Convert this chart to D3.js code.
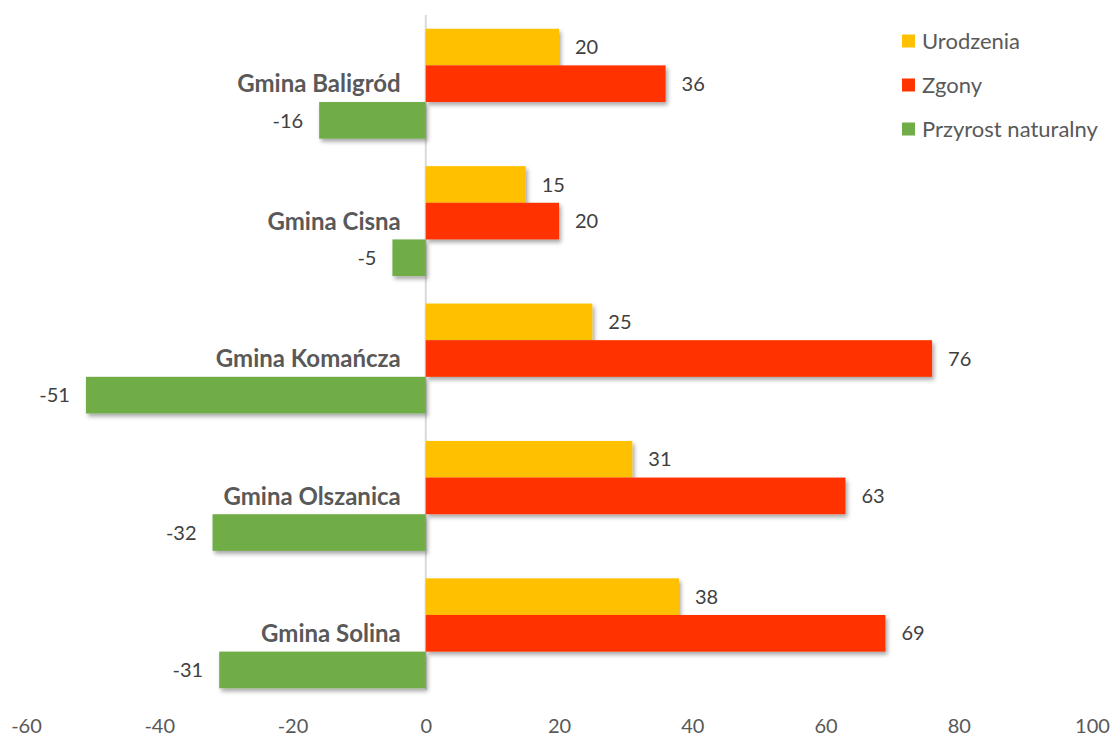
<!DOCTYPE html>
<html lang="pl">
<head>
<meta charset="utf-8">
<title>Przyrost naturalny</title>
<style type="text/css">
    body { margin: 0; background: #fff; }
    text { font-family: Lato, "Open Sans", sans-serif; }
</style>
</head>
<body>
<script src="https://cdnjs.cloudflare.com/ajax/libs/d3/7.8.5/d3.min.js"></script>
<script>

    var categories = ["Gmina Baligród", "Gmina Cisna", "Gmina Komańcza", "Gmina Olszanica", "Gmina Solina"];
    var seriesNames = ["Urodzenia", "Zgony", "Przyrost naturalny"];
    var urodzenia = [20, 15, 25, 31, 38];
    var zgony = [36, 20, 76, 63, 69];
    var przyrost = [-16, -5, -51, -32, -31];
    var xTicks = [-60, -40, -20, 0, 20, 40, 60, 80, 100];
    var colors = ["#FFC000", "#FF3300", "#70AD47"];

    var series = [urodzenia, zgony, przyrost];

    var width = 1113, height = 740;
    var plot = {left: 26, right: 1092, top: 15, bottom: 702};

    var svg = d3.select("body").append("svg")
        .attr("width", width)
        .attr("height", height);

    var defs = svg.append("defs");
    var filter = defs.append("filter")
        .attr("id", "shadow")
        .attr("x", "-10%").attr("y", "-30%")
        .attr("width", "130%").attr("height", "180%");
    filter.append("feDropShadow")
        .attr("dx", 2).attr("dy", 3)
        .attr("stdDeviation", 2.2)
        .attr("flood-color", "#000")
        .attr("flood-opacity", 0.35);

    var xScale = d3.scaleLinear()
        .domain([-60, 100])
        .range([plot.left, plot.right]);

    var yScale = d3.scaleBand()
        .domain(categories)
        .range([plot.top, plot.bottom])
        .paddingInner(0.2)
        .paddingOuter(0.1);

    var ySub = d3.scaleBand()
        .domain(d3.range(seriesNames.length))
        .range([0, yScale.bandwidth()]);

    // zero line
    svg.append("line")
        .attr("x1", xScale(0)).attr("x2", xScale(0))
        .attr("y1", plot.top).attr("y2", plot.bottom - 12)
        .attr("stroke", "#d9d9d9")
        .attr("stroke-width", 2);

    // bars
    var groups = svg.selectAll("g.cat")
        .data(categories)
        .enter()
        .append("g")
        .attr("class", "cat")
        .attr("transform", function(d){ return "translate(0," + yScale(d) + ")"; });

    groups.each(function(cat, ci){
        var g = d3.select(this);
        series.forEach(function(vals, si){
            var v = vals[ci];
            g.append("rect")
                .attr("x", xScale(Math.min(0, v)))
                .attr("y", ySub(si))
                .attr("width", Math.abs(xScale(v) - xScale(0)))
                .attr("height", ySub.bandwidth())
                .attr("fill", colors[si])
                .attr("filter", "url(#shadow)");
            g.append("text")
                .attr("x", v >= 0 ? xScale(v) + 16 : xScale(v) - 16)
                .attr("y", ySub(si) + ySub.bandwidth() / 2)
                .attr("dy", "0.36em")
                .attr("text-anchor", v >= 0 ? "start" : "end")
                .attr("font-size", "20px")
                .attr("fill", "#404040")
                .text(v);
        });
        g.append("text")
            .attr("x", xScale(0) - 25)
            .attr("y", ySub(1) + ySub.bandwidth() / 2)
            .attr("dy", "0.36em")
            .attr("text-anchor", "end")
            .attr("font-size", "24px")
            .attr("font-weight", "bold")
            .attr("fill", "#595959")
            .text(cat);
    });

    // x axis
    var xAxis = d3.axisBottom(xScale)
        .tickValues(xTicks)
        .tickFormat(function(d){ return String(d); })
        .tickSize(0)
        .tickPadding(0);
    var xAxisGroup = svg.append("g")
        .attr("transform", "translate(0,719)")
        .call(xAxis);
    xAxisGroup.select(".domain").remove();
    xAxisGroup.selectAll("text")
        .attr("font-family", "Lato, 'Open Sans', sans-serif")
        .attr("font-size", "20px")
        .attr("fill", "#595959");

    // legend
    var legend = svg.append("g")
        .attr("transform", "translate(902,41)");
    seriesNames.forEach(function(name, i){
        var row = legend.append("g").attr("transform", "translate(0," + (i * 44) + ")");
        row.append("rect")
            .attr("x", 0).attr("y", -6.5)
            .attr("width", 13).attr("height", 13)
            .attr("fill", colors[i]);
        row.append("text")
            .attr("x", 20).attr("y", 0)
            .attr("dy", "0.36em")
            .attr("font-size", "22px")
            .attr("fill", "#595959")
            .text(name);
    });

</script>
</body>
</html>
